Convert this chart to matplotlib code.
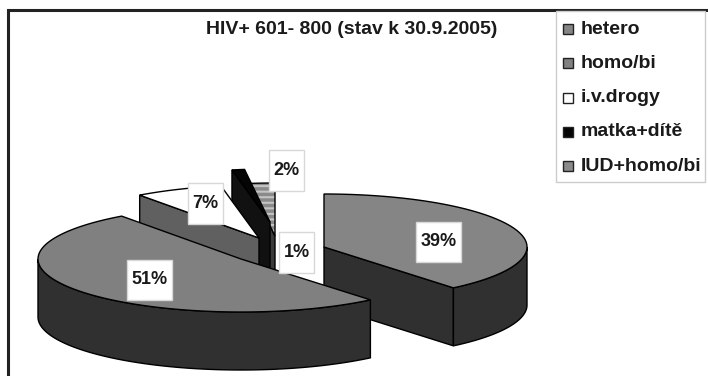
import numpy as np
import matplotlib
matplotlib.use("Agg")
import matplotlib.pyplot as plt
from matplotlib.patches import Polygon, Rectangle

# data
categories = ['hetero', 'homo/bi', 'i.v.drogy', 'matka+dítě', 'IUD+homo/bi']
values = [39, 51, 7, 1, 2]
title = 'HIV+ 601- 800 (stav k 30.9.2005)'

# look of each slice
top_colors = ['#858585', '#808080', '#ffffff', '#050505', '#8a8a8a']
side_colors = ['#303030', '#303030', '#606060', '#111111', '#3a3a3a']
centers = [(324, 247), (241, 259), (259, 238), (270, 222), (275, 236)]
label_boxes = [(416, 222, 461, 262), (127, 260, 172, 300), (188, 183, 223, 224),
               (279, 232, 314, 273), (269, 150, 304, 191)]

RX, RY, DEPTH = 203, 53, 58
DRAW_ORDER = [4, 3, 0, 2, 1]

plt.rcParams['font.family'] = ['Liberation Sans', 'DejaVu Sans']
fig = plt.figure(figsize=(7.08, 3.76), dpi=100)
ax = fig.add_axes([0, 0, 1, 1])
ax.set_xlim(0, 708)
ax.set_ylim(376, 0)
ax.axis('off')

# chart frame
ax.add_patch(Rectangle((8, 10), 720, 400, fc='white', ec='#222222', lw=2.2))


def arc(c, a0, a1, dy=0):
    t = np.radians(np.linspace(a0, a1, 120))
    return np.column_stack([c[0] + RX * np.sin(t), c[1] - RY * np.cos(t) + dy])


angles = np.cumsum([0] + values) / sum(values) * 360
for z, i in enumerate(DRAW_ORDER):
    a0, a1 = angles[i], angles[i + 1]
    c = centers[i]
    z = z * 3
    # cut faces, only those turned towards the viewer
    for ang, normal in ((a0, a0 - 90), (a1, a1 + 90)):
        if np.cos(np.radians(normal)) < -1e-6:
            p = arc(c, ang, ang)[0]
            quad = [c, p, (p[0], p[1] + DEPTH), (c[0], c[1] + DEPTH)]
            ax.add_patch(Polygon(quad, fc=side_colors[i], ec='black', lw=1, zorder=z + 1))
    # rim
    lo, hi = max(a0, 90), min(a1, 270)
    if lo < hi:
        rim = np.vstack([arc(c, lo, hi), arc(c, lo, hi, DEPTH)[::-1]])
        ax.add_patch(Polygon(rim, fc=side_colors[i], ec='black', lw=1, zorder=z + 2))
    # top
    face = np.vstack([[c], arc(c, a0, a1)])
    if categories[i] == 'IUD+homo/bi':
        plt.rcParams['hatch.linewidth'] = 1.5
        ax.add_patch(Polygon(face, fc=top_colors[i], ec='#c4c4c4', lw=0, hatch='---', zorder=z + 3))
        ax.add_patch(Polygon(face, fc='none', ec='black', lw=1, zorder=z + 3))
    else:
        ax.add_patch(Polygon(face, fc=top_colors[i], ec='black', lw=1, zorder=z + 3))

# labels
for v, b in zip(values, label_boxes):
    ax.add_patch(Rectangle((b[0], b[1]), b[2] - b[0], b[3] - b[1], fc='white', ec='#d8d8d8', lw=1, zorder=30))
    ax.text((b[0] + b[2]) / 2, (b[1] + b[3]) / 2, f'{v}%', ha='center', va='center',
            fontsize=13, fontweight='bold', color='#1a1a1a', zorder=31)

ax.text(351.5, 29, title, ha='center', va='center', fontsize=14, fontweight='bold', color='#1a1a1a')

# legend
ax.add_patch(Rectangle((556, 11), 149, 171, fc='white', ec='#cccccc', lw=1, zorder=30))
for i, name in enumerate(categories):
    y = 29 + i * 34.3
    ax.add_patch(Rectangle((562.5, y - 5), 10, 10, fc=top_colors[i], ec='#222222', lw=1, zorder=31))
    ax.text(581, y, name, va='center', fontsize=14, fontweight='bold', color='#1a1a1a', zorder=31)

fig.savefig('out.png', dpi=100)
